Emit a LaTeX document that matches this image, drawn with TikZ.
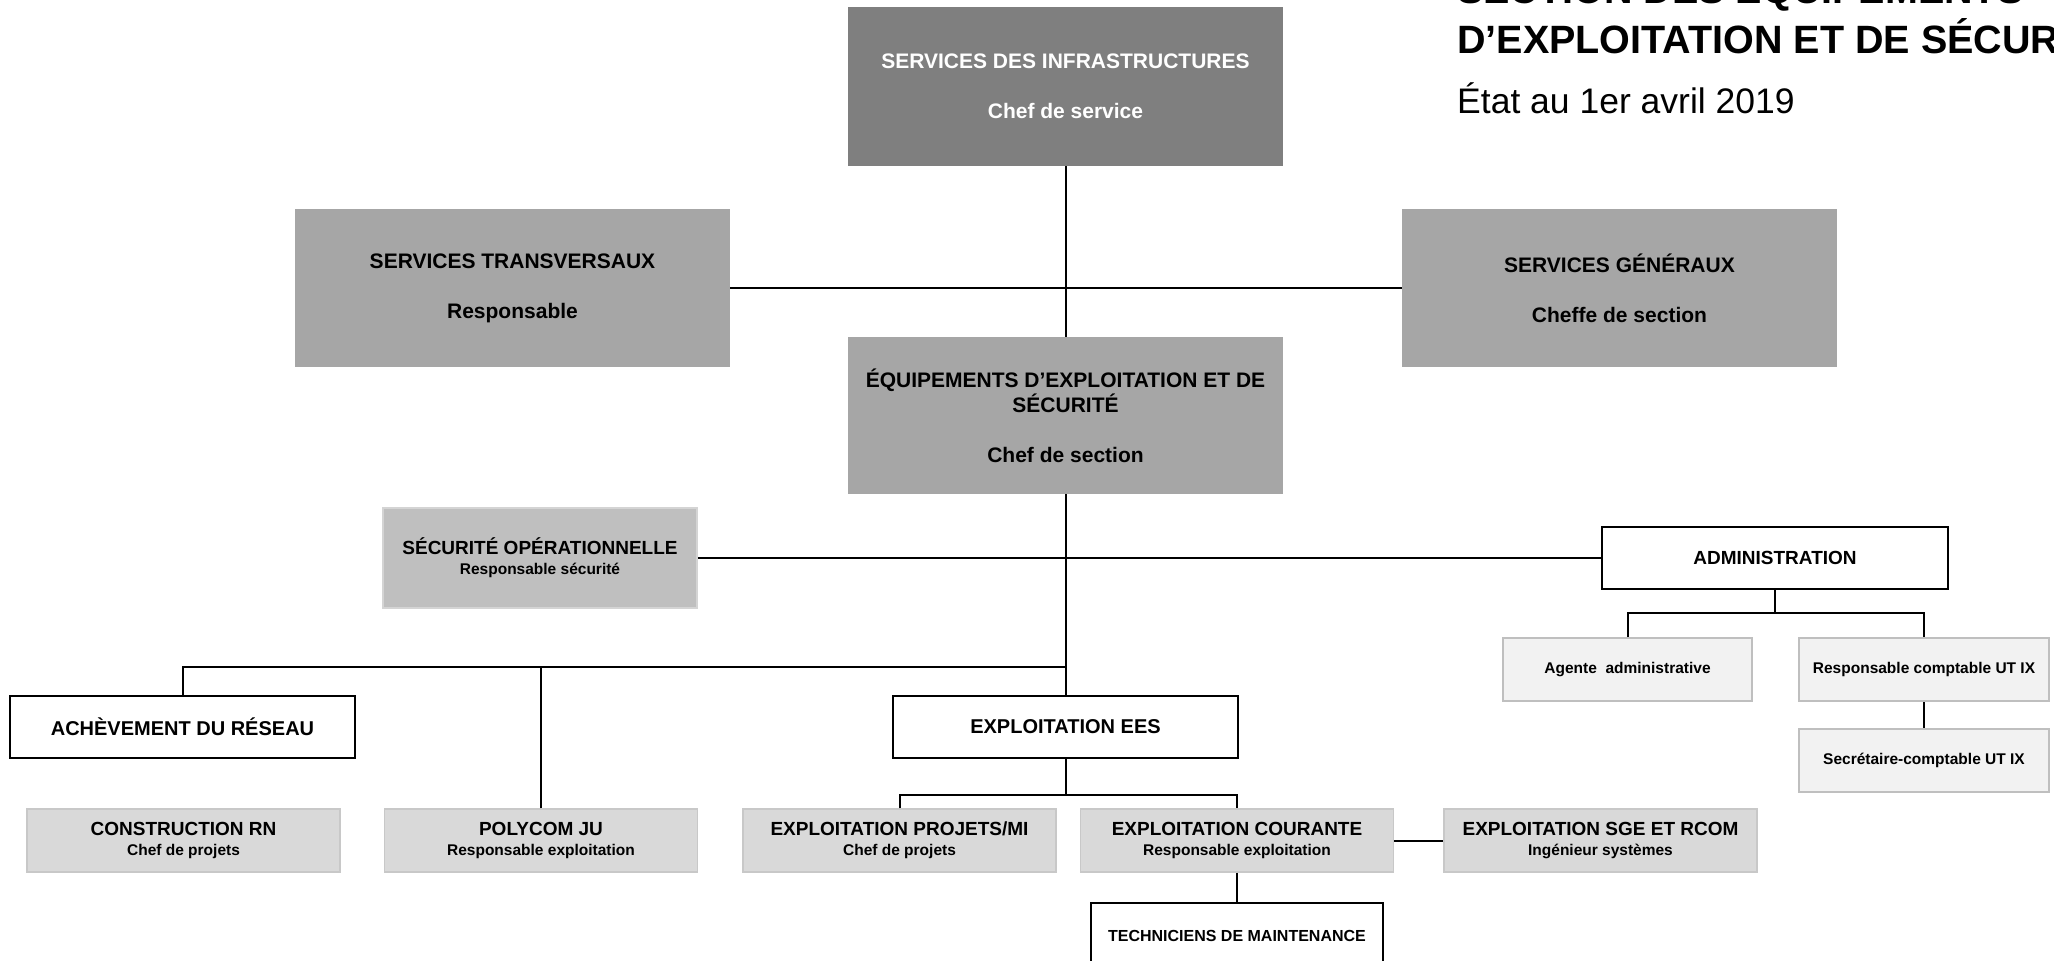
\documentclass[tikz,border=0pt]{standalone}
\usepackage{fontspec}
\setmainfont{Liberation Sans}
\usepackage{tikz}
\usetikzlibrary{positioning}
\definecolor{infragray}{RGB}{127,127,127}
\definecolor{servgray}{RGB}{166,166,166}
\definecolor{secugray}{RGB}{191,191,191}
\definecolor{secuedge}{RGB}{212,212,212}
\definecolor{unitgray}{RGB}{217,217,217}
\definecolor{unitedge}{RGB}{200,200,200}
\definecolor{staffgray}{RGB}{242,242,242}
\definecolor{staffedge}{RGB}{191,191,191}
\newcommand{\bigfont}{\fontsize{21}{25}\selectfont\bfseries}
\newcommand{\unitfont}{\fontsize{19}{20}\selectfont\bfseries}
\newcommand{\subfont}{\fontsize{15.5}{18}\selectfont\bfseries}
\newcommand{\titlefont}{\fontsize{39.5}{44}\selectfont\bfseries}
\tikzset{
  headbox/.style={rectangle, fill=infragray, text=white,
    minimum width=435pt, minimum height=159pt, inner sep=0pt,
    align=center, font=\bigfont},
  servbox/.style={rectangle, fill=servgray,
    minimum width=435pt, minimum height=158pt, inner sep=0pt,
    align=center, font=\bigfont},
  secubox/.style={rectangle, fill=secugray, draw=secuedge, line width=1.5pt,
    minimum width=314pt, minimum height=100pt, inner sep=0pt,
    align=center, font=\unitfont},
  framebox/.style={rectangle, draw=black, fill=white, line width=2.5pt,
    minimum width=345pt, minimum height=62pt, inner sep=0pt,
    align=center, font=\fontsize{20}{22}\selectfont\bfseries},
  unitbox/.style={rectangle, fill=unitgray, draw=unitedge, line width=1.5pt,
    minimum width=313pt, minimum height=63pt, inner sep=0pt,
    align=center, font=\unitfont},
  staffbox/.style={rectangle, fill=staffgray, draw=staffedge, line width=2pt,
    minimum width=249pt, minimum height=63pt, inner sep=0pt,
    align=center, font=\subfont},
  link/.style={line width=2pt, color=black}
}

\begin{document}
\begin{tikzpicture}[x=1pt, y=-1pt, node distance=23pt and 23pt]
  \useasboundingbox (0,0) rectangle (2054,961);
  \clip (0,0) rectangle (2054,961);

  % Title
  \node[anchor=base west, inner sep=0pt, font=\titlefont] (title1) at (1457,4) {SECTION DES ÉQUIPEMENTS};
  \node[anchor=base west, inner sep=0pt, font=\titlefont] (title2) at (1457,53) {D’EXPLOITATION ET DE SÉCURITÉ};
  \node[anchor=base west, inner sep=0pt, font=\fontsize{35.5}{40}\selectfont] (date) at (1457,113) {État au 1er avril 2019};

  % Direction
  \node[headbox] (infra) at (1065.5,86.5) {SERVICES DES INFRASTRUCTURES\\[25pt]Chef de service};
  \node[servbox] (transv) at (512.5,288) {SERVICES TRANSVERSAUX\\[25pt]Responsable};
  \node[servbox] (gen) at (1619.5,288) {SERVICES GÉNÉRAUX\\[25pt]Cheffe de section};
  \node[servbox, minimum height=157pt] (equip) at (1065.5,415.5) {ÉQUIPEMENTS D’EXPLOITATION ET DE\\SÉCURITÉ\\[25pt]Chef de section};

  % Staff
  \node[secubox] (secu) at (540,558) {SÉCURITÉ OPÉRATIONNELLE\\{\subfont Responsable sécurité}};
  \node[framebox, minimum width=346pt, font=\unitfont] (admin) at (1775,558) {ADMINISTRATION};
  \node[staffbox] (agente) at (1627.5,669.5) {Agente~ administrative};
  \node[staffbox, minimum width=250pt, right=45pt of agente] (compta) {Responsable comptable UT IX};
  \node[staffbox, minimum width=250pt, below=26pt of compta] (secr) {Secrétaire-comptable UT IX};

  % Units
  \node[framebox] (acheve) at (182.5,727) {ACHÈVEMENT DU RÉSEAU};
  \node[framebox] (ees) at (1065.5,727) {EXPLOITATION EES};
  \node[unitbox] (constr) at (183.5,840.5) {CONSTRUCTION RN\\{\subfont Chef de projets}};
  \node[unitbox, right=43pt of constr] (poly) {POLYCOM JU\\{\subfont Responsable exploitation}};
  \node[unitbox, right=44pt of poly] (projmi) {EXPLOITATION PROJETS/MI\\{\subfont Chef de projets}};
  \node[unitbox, right=23pt of projmi] (cour) {EXPLOITATION COURANTE\\{\subfont Responsable exploitation}};
  \node[unitbox, right=49pt of cour] (sge) {EXPLOITATION SGE ET RCOM\\{\subfont Ingénieur systèmes}};
  \node[framebox, minimum width=292pt, minimum height=66pt, font=\fontsize{16}{18}\selectfont\bfseries, below=29pt of cour] (tech) {TECHNICIENS DE MAINTENANCE};

  % Connectors
  \draw[link] (infra) -- (equip);
  \draw[link] (transv) -- (gen);
  \draw[link] (equip) -- (ees);
  \draw[link] (secu) -- (admin);
  \coordinate (leftbus) at (1065.5,667);
  \draw[link] (acheve.north) |- (leftbus);
  \draw[link] (poly.north) -- (poly.north |- leftbus);
  \coordinate (adminbus) at (1775,613);
  \draw[link] (admin.south) -- (adminbus);
  \draw[link] (agente.north) |- (adminbus) -| (compta.north);
  \draw[link] (compta) -- (secr);
  \coordinate (eesbus) at (1065.5,795);
  \draw[link] (ees.south) -- (eesbus);
  \draw[link] (projmi.north) |- (eesbus) -| (cour.north);
  \draw[link] (cour) -- (sge);
  \draw[link] (cour) -- (tech);
\end{tikzpicture}
\end{document}
